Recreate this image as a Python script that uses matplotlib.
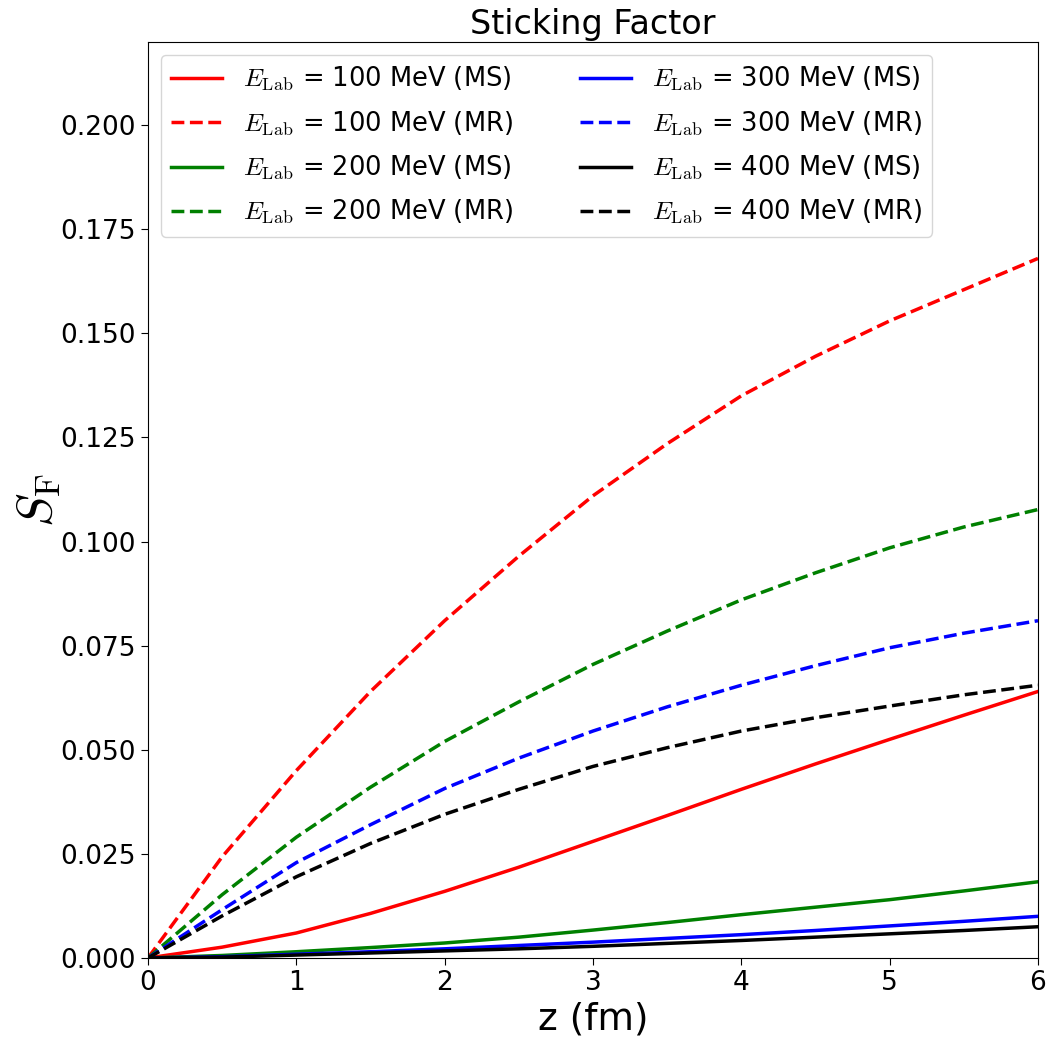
import matplotlib
matplotlib.use("Agg")
import matplotlib.pyplot as plt

plt.rcParams["mathtext.fontset"] = "cm"

z = [0, 0.5, 1, 1.5, 2, 2.5, 3, 3.5, 4, 4.5, 5, 5.5, 6]

# multiple scattering (MS) and multiple reflection (MR) sticking factors
ms_100 = [0, 0.0026, 0.006, 0.0107, 0.016, 0.0218, 0.028, 0.0342, 0.0405, 0.0466, 0.0525, 0.0583, 0.064]
mr_100 = [0, 0.0243, 0.045, 0.064, 0.081, 0.0965, 0.111, 0.1235, 0.135, 0.1445, 0.153, 0.1605, 0.168]
ms_200 = [0, 0.0006, 0.0015, 0.0025, 0.0036, 0.005, 0.0067, 0.0085, 0.0104, 0.0122, 0.014, 0.0161, 0.0183]
mr_200 = [0, 0.0152, 0.029, 0.041, 0.052, 0.0615, 0.0705, 0.0785, 0.086, 0.0925, 0.0985, 0.1035, 0.1077]
ms_300 = [0, 0.0003, 0.0009, 0.0015, 0.0022, 0.003, 0.0038, 0.0047, 0.0056, 0.0066, 0.0077, 0.0088, 0.0100]
mr_300 = [0, 0.0116, 0.0229, 0.032, 0.0407, 0.048, 0.0545, 0.0603, 0.0655, 0.0702, 0.0745, 0.078, 0.081]
ms_400 = [0, 0.0002, 0.0007, 0.0012, 0.0017, 0.0022, 0.0028, 0.0035, 0.0042, 0.005, 0.0058, 0.0066, 0.0075]
mr_400 = [0, 0.0101, 0.0195, 0.0275, 0.0345, 0.0405, 0.046, 0.0505, 0.0545, 0.0577, 0.0605, 0.0632, 0.0655]

energies = [100, 200, 300, 400]
colors = ["r", "g", "b", "k"]
ms = [ms_100, ms_200, ms_300, ms_400]
mr = [mr_100, mr_200, mr_300, mr_400]

fig = plt.figure(figsize=(10.51, 10.48), dpi=100)
ax = fig.add_axes([0.1408, 0.0859, 0.8468, 0.8741])

for e, c, s, r in zip(energies, colors, ms, mr):
    ax.plot(z, s, color=c, ls="-", lw=2.5,
            label=r"$E_{\rm Lab}$ = %d MeV (MS)" % e)
    ax.plot(z, r, color=c, ls="--", lw=2.5,
            label=r"$E_{\rm Lab}$ = %d MeV (MR)" % e)

ax.set_xlim(0, 6)
ax.set_ylim(0, 0.22)
ax.set_yticks([0, 0.025, 0.05, 0.075, 0.1, 0.125, 0.15, 0.175, 0.2])
ax.yaxis.set_major_formatter(matplotlib.ticker.FormatStrFormatter("%.3f"))
ax.tick_params(labelsize=19, length=5)
ax.set_title("Sticking Factor", fontsize=24)
ax.set_xlabel("z (fm)", fontsize=27)
ax.set_ylabel(r"$S_{\rm F}$", fontsize=36, labelpad=-2)
ax.legend(ncol=2, loc="upper left", fontsize=18.5,
          columnspacing=2.6, labelspacing=0.62)

plt.savefig("out.png", dpi=100)
